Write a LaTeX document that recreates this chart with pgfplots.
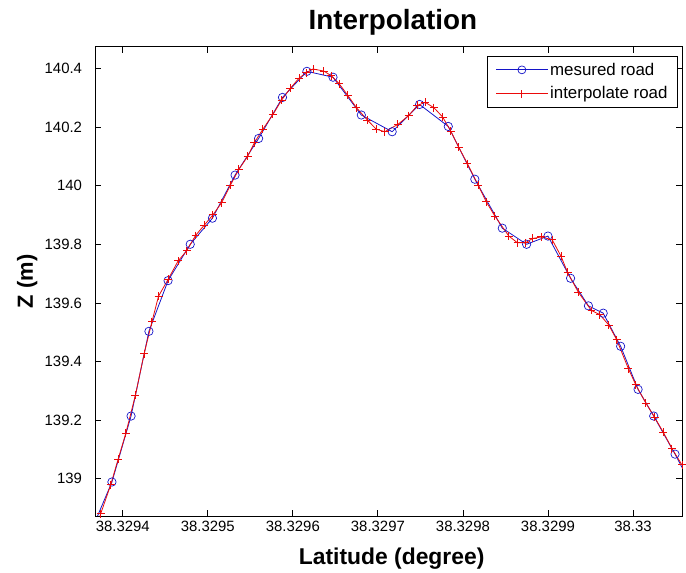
\documentclass[border=0pt]{standalone}
\usepackage{pgfplots}
\usepackage{pgfplotstable}
\pgfplotsset{compat=1.18}
\usepackage{fontspec}
\setmainfont{Liberation Sans}

% dlat: latitude minus 38.3294, in 1e-6 degree (keeps the FPU precise)
\pgfplotstableread{
dlat z
-36 138.83
-12.8 138.989
9.7 139.214
30.7 139.503
53.2 139.676
79.3 139.800
105.4 139.889
132.0 140.036
159.7 140.161
187.8 140.301
216.5 140.390
247.2 140.370
280.5 140.241
316.8 140.184
349.0 140.277
382.8 140.202
414.0 140.022
446.3 139.855
474.9 139.800
500.0 139.828
526.6 139.684
547.6 139.590
565.0 139.565
585.5 139.452
606.0 139.305
624.4 139.214
649.5 139.084
672 138.96
}\measured

\pgfplotstableread{
dlat z
-34 138.80
-26.1 138.880
-14.3 138.979
-5.6 139.066
3.6 139.156
14.8 139.285
25.1 139.427
34.3 139.536
42.0 139.623
53.2 139.680
65.0 139.743
75.2 139.778
85.5 139.830
95.7 139.865
105.9 139.900
116.2 139.942
126.4 140.001
136.6 140.056
146.9 140.100
154.6 140.146
164.8 140.193
176.6 140.243
186.8 140.292
197.0 140.332
207.3 140.367
215.5 140.385
223.7 140.398
236.4 140.391
245.1 140.375
254.4 140.348
264.6 140.308
274.8 140.266
287.6 140.224
297.9 140.193
308.1 140.184
323.5 140.209
336.2 140.239
346.5 140.274
355.7 140.284
365.9 140.266
376.2 140.234
385.9 140.185
395.1 140.131
405.3 140.075
418.1 140.001
427.4 139.945
437.6 139.896
454.0 139.828
464.2 139.805
473.4 139.805
482.1 139.820
492.3 139.825
505.1 139.815
515.4 139.759
523.1 139.704
535.8 139.636
551.2 139.574
561.0 139.560
571.7 139.524
580.9 139.474
594.7 139.375
603.4 139.320
615.2 139.258
625.4 139.210
635.6 139.159
645.9 139.103
657.7 139.047
669 138.99
}\interp

\definecolor{mblue}{RGB}{20,20,200}
\definecolor{mred}{RGB}{235,10,10}

\begin{document}
\begin{tikzpicture}
\begin{axis}[
    width=590pt, height=472pt, scale only axis,
    xmin=-32.2, xmax=657.7,
    ymin=138.873, ymax=140.474,
    xtick={0,100,200,300,400,500,600},
    xticklabels={38.3294,38.3295,38.3296,38.3297,38.3298,38.3299,38.33},
    ytick={139,139.2,139.4,139.6,139.8,140,140.2,140.4},
    yticklabels={139,139.2,139.4,139.6,139.8,140,140.2,140.4},
    scaled ticks=false,
    tick align=inside,
    xtick pos=both, ytick pos=both,
    major tick length=6pt,
    axis line style={line width=0.8pt},
    tick style={line width=0.8pt, black},
    ticklabel style={font=\fontsize{15}{15}\selectfont},
    yticklabel style={xshift=-10pt},
    xticklabel style={yshift=-2pt},
    title={Interpolation},
    title style={font=\bfseries\fontsize{28}{28}\selectfont,
        at={(axis description cs:0.507,1.024)}, anchor=base},
    xlabel={Latitude (degree)},
    xlabel style={font=\bfseries\fontsize{23}{23}\selectfont,
        at={(axis description cs:0.505,-0.1030)}, anchor=base},
    ylabel={Z (m)},
    ylabel style={font=\bfseries\fontsize{22}{22}\selectfont,
        at={(axis description cs:-0.1068,0.5)}, anchor=base},
    legend style={at={(rel axis cs:0.993,0.981)}, anchor=north east,
        font=\fontsize{17}{20}\selectfont, draw=black, line width=0.8pt,
        inner xsep=8pt, inner ysep=5pt, row sep=6pt},
    legend cell align=left,
]
\addplot[color=mblue, line width=0.8pt, mark=o,
    mark options={line width=0.7pt}, mark size=4.2pt,
    legend image code/.code={
        \draw[draw=mblue, line width=0.8pt] (0pt,0pt) -- (52pt,0pt);
        \draw[draw=mblue, line width=0.7pt] (26pt,0pt) circle (4pt);}]
    table[x=dlat, y=z] {\measured};
\addlegendentry{mesured road}
\addplot[color=mred, line width=0.8pt, mark=+,
    mark options={line width=1pt}, mark size=4pt,
    legend image code/.code={
        \draw[draw=mred, line width=0.8pt] (0pt,0pt) -- (52pt,0pt);
        \draw[draw=mred, line width=1pt] (22pt,0pt) -- (30pt,0pt)
            (26pt,-4pt) -- (26pt,4pt);}]
    table[x=dlat, y=z] {\interp};
\addlegendentry{interpolate road}
\end{axis}
\path (current axis.south west) ++(-96pt,-55pt) rectangle ++(686pt,574pt);
\end{tikzpicture}
\end{document}
